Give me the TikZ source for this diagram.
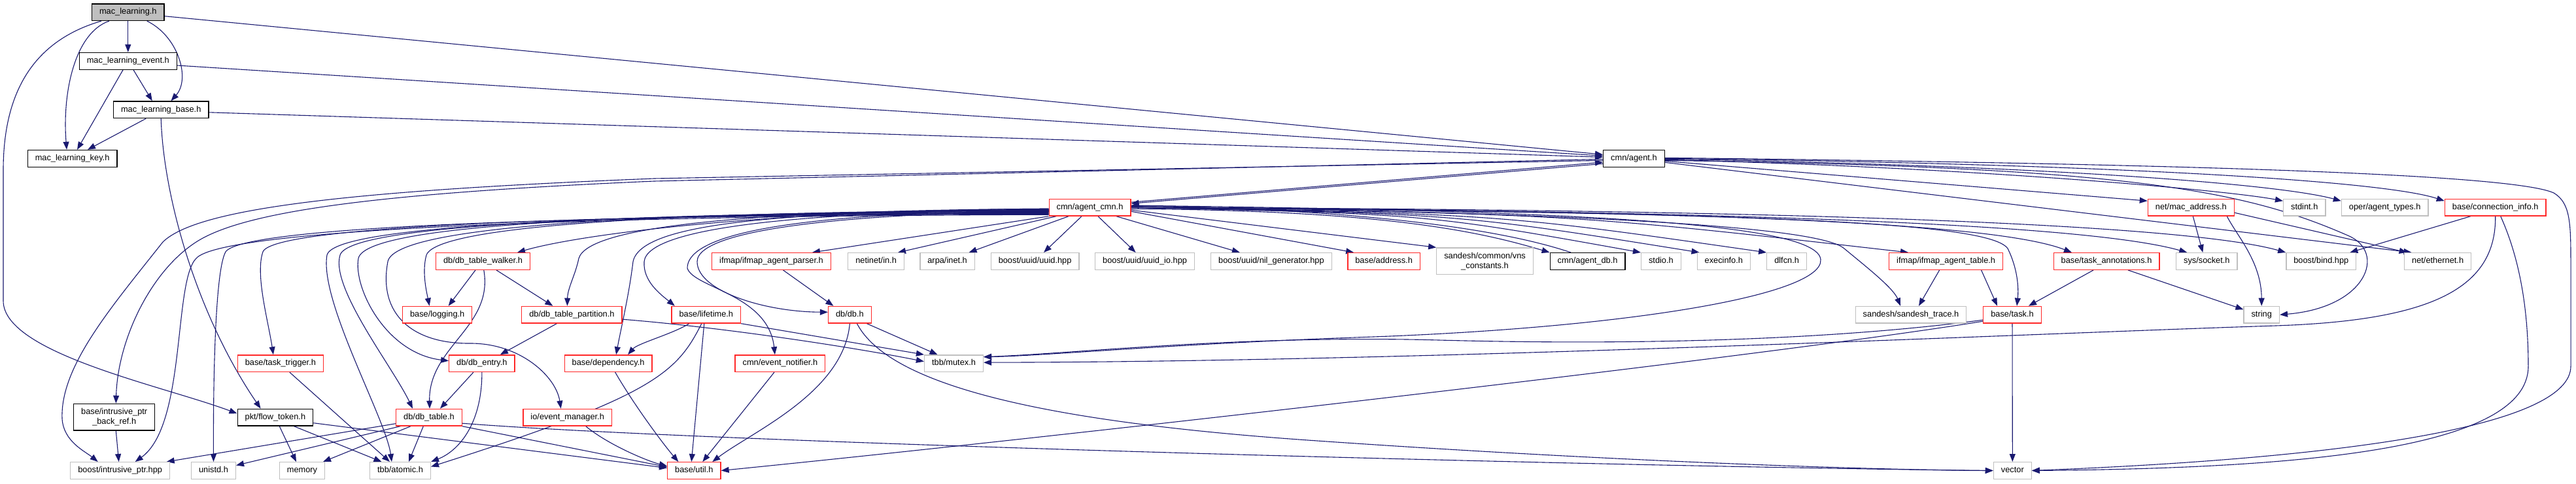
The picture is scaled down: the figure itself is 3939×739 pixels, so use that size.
\documentclass[tikz,border=0pt]{standalone}
\usepackage{fontspec}
\setmainfont{Liberation Sans}
\usetikzlibrary{arrows.meta,backgrounds}
\definecolor{edgeblue}{RGB}{25,25,112}
\definecolor{nodered}{RGB}{255,40,40}
\definecolor{nodegray}{RGB}{191,191,191}
\definecolor{mlgray}{RGB}{191,191,191}
\begin{document}
\begin{tikzpicture}[x=1pt,y=-1pt,
  nbox/.style={draw, line width=1.3pt, fill=white, minimum height=25.7pt, inner xsep=11.5pt, inner ysep=0pt, text height=9.2pt, text depth=2.7pt, font=\fontsize{12.8}{15}\selectfont},
  nboxtwo/.style={draw, line width=1.3pt, fill=white, minimum height=40.7pt, inner xsep=11.5pt, inner ysep=0pt, align=center, font=\fontsize{12.8}{15}\selectfont},
  rd/.style={nbox, draw=nodered},
  gr/.style={nbox, draw=nodegray},
  blk/.style={nbox, draw=black},
  grtwo/.style={nboxtwo, draw=nodegray},
  blktwo/.style={nboxtwo, draw=black},
  conn/.style={draw=edgeblue, line width=1.1pt, -{Triangle[length=12pt,width=9pt]}}]
\useasboundingbox (0,0) rectangle (3939,739);
% ---------- nodes ----------
\node[blk, fill=mlgray] (ML) at (195.8,18.7) {mac\_learning.h};
\node[blk] (MLE) at (195.8,93.3) {mac\_learning\_event.h};
\node[blk] (MLB) at (246.2,167.8) {mac\_learning\_base.h};
\node[blk] (MLK) at (110.6,242.3) {mac\_learning\_key.h};
\node[blk] (AG) at (2498.4,242.3) {cmn/agent.h};
\node[rd] (AC) at (1666.5,317.2) {cmn/agent\_cmn.h};
\node[rd] (MA) at (3350.3,317.2) {net/mac\_address.h};
\node[gr] (SI) at (3523.7,317.2) {stdint.h};
\node[gr] (AT) at (3646.7,317.2) {oper/agent\_types.h};
\node[rd] (CI) at (3815.7,317.2) {base/connection\_info.h};
% row 6
\node[rd] (DTW) at (738.5,399.5) {db/db\_table\_walker.h};
\node[rd] (IAP) at (1179.5,399.5) {ifmap/ifmap\_agent\_parser.h};
\node[gr] (NIN) at (1339.6,399.5) {netinet/in.h};
\node[gr] (AI) at (1448.6,399.5) {arpa/inet.h};
\node[gr] (UU) at (1582.6,399.5) {boost/uuid/uuid.hpp};
\node[gr] (UIO) at (1750.6,399.5) {boost/uuid/uuid\_io.hpp};
\node[gr] (NG) at (1943.9,399.5) {boost/uuid/nil\_generator.hpp};
\node[rd] (BA) at (2116.1,399.5) {base/address.h};
\node[grtwo] (VNS) at (2270.5,399.3) {sandesh/common/vns\\\_constants.h};
\node[blk] (ADB) at (2427.6,399.5) {cmn/agent\_db.h};
\node[gr] (SIO) at (2539.9,399.5) {stdio.h};
\node[gr] (EI) at (2635.8,399.5) {execinfo.h};
\node[gr] (DL) at (2732.1,399.5) {dlfcn.h};
\node[rd] (IAT) at (2975.6,399.5) {ifmap/ifmap\_agent\_table.h};
\node[rd] (TA) at (3221,399.5) {base/task\_annotations.h};
\node[gr] (SS) at (3374.3,399.5) {sys/socket.h};
\node[gr] (BB) at (3549.3,399.5) {boost/bind.hpp};
\node[gr] (NE) at (3727.6,399.5) {net/ethernet.h};
% row 7
\node[rd] (LOG) at (668.7,481.2) {base/logging.h};
\node[rd] (DTP) at (874.4,481.2) {db/db\_table\_partition.h};
\node[rd] (LT) at (1079.8,481.2) {base/lifetime.h};
\node[rd] (DB) at (1299.4,481.2) {db/db.h};
\node[gr] (ST) at (2922,481.2) {sandesh/sandesh\_trace.h};
\node[rd] (TK) at (3077,481.2) {base/task.h};
\node[gr] (STR) at (3458.2,481.2) {string};
% row 8
\node[rd] (TT) at (428.9,555.7) {base/task\_trigger.h};
\node[rd] (DE) at (736.9,555.7) {db/db\_entry.h};
\node[rd] (DEP) at (930.1,555.7) {base/dependency.h};
\node[rd] (EN) at (1192.9,555.7) {cmn/event\_notifier.h};
\node[gr] (MX) at (1458.5,555.7) {tbb/mutex.h};
% row 9
\node[blktwo] (IPB) at (174.7,637.7) {base/intrusive\_ptr\\\_back\_ref.h};
\node[blk] (FT) at (420.9,638.2) {pkt/flow\_token.h};
\node[rd] (DT) at (656,638.2) {db/db\_table.h};
\node[rd] (EM) at (867.7,638.2) {io/event\_manager.h};
% row 10
\node[gr] (BIP) at (183.7,719.5) {boost/intrusive\_ptr.hpp};
\node[gr] (UN) at (326.5,719.5) {unistd.h};
\node[gr] (MEM) at (462,719.5) {memory};
\node[gr] (ATM) at (612,719.5) {tbb/atomic.h};
\node[rd] (UT) at (1061.3,719.5) {base/util.h};
\node[gr] (VEC) at (3077.3,719.5) {vector};
% ---------- edges ----------
\begin{scope}[on background layer]
\fill[white] (0,0) rectangle (3939,739);
% mac_learning.h
\draw[conn] (ML.south) -- (MLE.north);
\draw[conn] ([xshift=-29pt]ML.south) .. controls (115,50) and (95,140) .. ([xshift=-8.6pt]MLK.north);
\draw[conn] ([xshift=29pt]ML.south) .. controls (272,55) and (292,120) .. ([xshift=15.3pt]MLB.north);
\draw[conn] ([yshift=-6pt]ML.east) -- ([yshift=6pt]AG.west);
\draw[conn] ([xshift=-41pt]ML.south) .. controls (60,60) and (5,130) .. (5,260) -- (5,460) .. controls (5,540) and (250,590) .. ([yshift=6pt]FT.west);
% mac_learning_event.h
\draw[conn] ([xshift=-7.7pt]MLE.south) -- ([xshift=7.4pt]MLK.north);
\draw[conn] ([xshift=8.2pt]MLE.south) -- ([xshift=-13.4pt]MLB.north);
\draw[conn] ([yshift=-6.7pt]MLE.east) -- ([yshift=4pt]AG.west);
% mac_learning_base.h
\draw[conn] ([xshift=-23pt]MLB.south) -- ([xshift=23.4pt]MLK.north);
\draw[conn] ([yshift=-4pt]MLB.east) -- ([yshift=2pt]AG.west);
\draw[conn] (MLB.south) .. controls (250,300) and (300,480) .. ([xshift=-22.3pt]FT.north);
% agent.h <-> agent_cmn.h
\draw[conn] ([yshift=8pt]AC.east) -- ([yshift=-5.7pt]AG.west);
\draw[conn] ([yshift=-8pt]AG.west) -- ([yshift=6pt]AC.east);
% agent.h
\draw[conn] ([yshift=-3pt]AG.west) -- (1000,273) .. controls (520,292) and (300,320) .. (249,370) .. controls (170,470) and (92,560) .. (95,640) .. controls (97,675) and (130,690) .. ([xshift=-34pt]BIP.north);
\draw[conn] ([yshift=-1pt]AG.west) -- (1000,277) .. controls (560,296) and (370,325) .. (300,370) .. controls (230,415) and (180,520) .. ([xshift=2.6pt]IPB.north);
\draw[conn] ([yshift=-4pt]AG.east) -- ([yshift=10pt]MA.west);
\draw[conn] ([yshift=-2pt]AG.east) .. controls (3000,255) and (3400,290) .. ([yshift=10pt]SI.west);
\draw[conn] ([yshift=-1pt]AG.east) .. controls (3100,252) and (3480,280) .. ([yshift=10pt]AT.west);
\draw[conn] (AG.east) .. controls (3200,250) and (3640,275) .. ([yshift=10pt]CI.west);
\draw[conn] ([yshift=1pt]AG.east) .. controls (3300,250) and (3840,265) .. (3905,295) .. controls (3930,310) and (3931,340) .. (3931,400) -- (3931,560) .. controls (3931,650) and (3600,700) .. (VEC.east);
\draw[conn] ([yshift=-3pt]AG.east) .. controls (3250,255) and (3430,290) .. (3590,360) .. controls (3650,385) and (3620,470) .. (STR.east);
\draw[conn] ([yshift=-6pt]AG.east) -- ([xshift=-40pt]NE.north);
% net/mac_address.h
\draw[conn] ([xshift=3pt]MA.south) -- ([xshift=-6pt]SS.north);
\draw[conn] ([yshift=-8pt]MA.east) -- ([xshift=-47pt]NE.north);
\draw[conn] ([xshift=55pt]MA.south) .. controls (3420,360) and (3458,400) .. (STR.north);
% base/connection_info.h
\draw[conn] ([xshift=-38pt]CI.south) -- ([xshift=44pt]BB.north);
\draw[conn] (CI.south) .. controls (3817,440) and (3720,490) .. (3480,498) .. controls (3100,510) and (2200,553) .. ([yshift=1.5pt]MX.east);
\draw[conn] ([xshift=8pt]CI.south) .. controls (3855,400) and (3866,480) .. (3866,560) .. controls (3866,690) and (3500,716) .. (VEC.east);
% agent_cmn.h downwards
\draw[conn] (AC.south west) -- ([xshift=62.5pt]IAP.north);
\draw[conn] ([xshift=-51.5pt]AC.south) -- ([xshift=33.4pt]NIN.north);
\draw[conn] ([xshift=-32.5pt]AC.south) -- ([xshift=33pt]AI.north);
\draw[conn] ([xshift=-12.5pt]AC.south) -- ([xshift=13.4pt]UU.north);
\draw[conn] ([xshift=12.5pt]AC.south) -- ([xshift=-14pt]UIO.north);
\draw[conn] ([xshift=40.5pt]AC.south) -- ([xshift=-48pt]NG.north);
% agent_cmn.h to the right
\draw[conn] ([yshift=-6pt]AC.east) -- ([xshift=-46pt]BA.north);
\draw[conn] ([yshift=-4pt]AC.east) -- (VNS.north west);
\draw[conn] ([yshift=-2pt]AC.east) .. controls (2100,322) and (2250,350) .. (ADB.north west);
\draw[conn] ([xshift=-25.6pt]ADB.north) .. controls (2280,345) and (2050,320) .. ([yshift=3pt]AC.east);
\draw[conn] (AC.east) .. controls (2180,327) .. (SIO.north west);
\draw[conn] (AC.east) .. controls (2230,327) .. ([xshift=4pt]EI.north west);
\draw[conn] (AC.east) .. controls (2290,327) .. (DL.north west);
\draw[conn] (AC.east) .. controls (2400,327) .. ([xshift=-57.6pt]IAT.north);
\draw[conn] ([yshift=2pt]AC.east) .. controls (2400,325) and (2780,345) .. (2820,380) .. controls (2850,405) and (2895,440) .. ([xshift=-16pt]ST.north);
\draw[conn] ([yshift=3pt]AC.east) .. controls (2400,322) and (2780,340) .. (2784,397) .. controls (2788,450) and (2500,500) .. (2100,515) .. controls (1800,525) and (1600,544) .. ([yshift=10pt]MX.east);
\draw[conn] (AC.east) .. controls (2600,322) and (3050,340) .. ([xshift=-53pt]TA.north);
\draw[conn] (AC.east) .. controls (2700,322) and (3200,345) .. ([xshift=-30pt]SS.north);
\draw[conn] (AC.east) .. controls (2800,320) and (3350,345) .. (BB.north west);
\draw[conn] (AC.east) .. controls (2600,325) and (3040,335) .. (3070,380) .. controls (3085,410) and (3087,440) .. ([xshift=7pt]TK.north);
% agent_cmn.h to the left
\draw[conn] ([yshift=-2pt]AC.west) .. controls (1150,322) and (880,360) .. ([xshift=52.5pt]DTW.north);
\draw[conn] ([yshift=-2pt]AC.west) .. controls (1150,322) and (900,345) .. (885,395) .. controls (880,420) and (868,440) .. ([xshift=-7pt]DTP.north);
\draw[conn] ([yshift=-3pt]AC.west) .. controls (1200,323) and (980,340) .. (968,400) .. controls (962,450) and (950,500) .. ([xshift=12pt]DEP.north);
\draw[conn] ([yshift=-4pt]AC.west) .. controls (1250,323) and (990,345) .. (985,400) .. controls (983,430) and (1010,450) .. ([xshift=-48pt]LT.north);
\draw[conn] ([yshift=-5pt]AC.west) .. controls (1300,324) and (1051,345) .. (1051,410) .. controls (1060,440) and (1175,450) .. ([xshift=-8pt]EN.north);
\draw[conn] ([yshift=-6pt]AC.west) .. controls (1350,325) and (1066,345) .. (1066,400) .. controls (1066,445) and (1170,477) .. ([yshift=4pt]DB.west);
\draw[conn] ([yshift=-4pt]AC.west) .. controls (1100,323) and (670,340) .. (652,390) .. controls (645,415) and (652,445) .. ([xshift=-12pt]LOG.north);
\draw[conn] ([yshift=-5pt]AC.west) .. controls (1050,324) and (605,340) .. (593,400) .. controls (578,480) and (630,526) .. (720,525) .. controls (795,525) and (850,575) .. ([xshift=-10pt]EM.north);
\draw[conn] ([yshift=-6pt]AC.west) .. controls (1000,325) and (560,340) .. (548,395) .. controls (540,440) and (590,540) .. ([yshift=4pt]DE.west);
\draw[conn] ([yshift=-7pt]AC.west) .. controls (1000,326) and (535,340) .. (520,390) .. controls (505,440) and (600,560) .. ([xshift=-25pt]DT.north);
\draw[conn] ([yshift=-8pt]AC.west) .. controls (1000,327) and (512,340) .. (500,390) .. controls (488,460) and (590,640) .. ([xshift=-13pt]ATM.north);
\draw[conn] ([yshift=-9pt]AC.west) .. controls (900,328) and (418,345) .. (402,385) .. controls (390,420) and (410,490) .. ([xshift=-11pt]TT.north);
\draw[conn] ([yshift=-10pt]AC.west) .. controls (900,329) and (372,345) .. (345,385) .. controls (328,415) and (326,600) .. (UN.north);
\draw[conn] ([yshift=-11pt]AC.west) .. controls (900,330) and (340,350) .. (300,395) .. controls (265,430) and (285,650) .. ([xshift=23pt]BIP.north);
% remaining
\draw[conn] ([xshift=18pt]IAP.south) -- ([xshift=-25pt]DB.north);
\draw[conn] ([xshift=26pt]DB.south) -- ([xshift=-25pt]MX.north);
\draw[conn] (DB.south) .. controls (1290,600) and (1150,660) .. ([xshift=28pt]UT.north);
\draw[conn] ([xshift=11pt]DB.south) .. controls (1360,590) and (1600,645) .. (2000,673) .. controls (2500,708) and (2900,719) .. (VEC.west);
\draw[conn] ([xshift=-26pt]LT.south) .. controls (1030,510) and (975,525) .. ([xshift=30pt]DEP.north);
\draw[conn] ([xshift=-7pt]LT.south) .. controls (1035,570) and (1000,605) .. ([yshift=6pt]ATM.east);
\draw[conn] ([xshift=-3pt]LT.south) -- ([xshift=-4pt]UT.north);
\draw[conn] (LT.south east) -- (MX.north west);
\draw[conn] ([yshift=-7pt]DTP.east) .. controls (1100,500) and (1300,530) .. ([yshift=3pt]MX.west);
\draw[conn] ([xshift=-23pt]DTP.south) -- ([xshift=28pt]DE.north);
\draw[conn] ([xshift=-11.5pt]DTW.south) -- ([xshift=17pt]LOG.north);
\draw[conn] ([xshift=20.5pt]DTW.south) -- ([xshift=-29pt]DTP.north);
\draw[conn] ([xshift=1.3pt]DTW.south) .. controls (755,500) and (655,530) .. ([xshift=1pt]DT.north);
\draw[conn] ([xshift=-13pt]DE.south) -- ([xshift=17pt]DT.north);
\draw[conn] (DE.south) .. controls (737,650) and (700,690) .. (ATM.north east);
\draw[conn] ([xshift=10.6pt]DEP.south) .. controls (970,620) and (1015,680) .. ([xshift=-24pt]UT.north);
\draw[conn] ([xshift=28pt]EM.south) .. controls (930,680) and (990,705) .. ([yshift=7pt]UT.west);
\draw[conn] ([xshift=-9pt]EN.south) -- ([xshift=13pt]UT.north);
\draw[conn] ([yshift=-10pt]TK.west) .. controls (2700,545) and (1600,670) .. (UT.east);
\draw[conn] ([yshift=-8pt]TK.west) .. controls (2800,520) and (2500,528) .. (2200,520) .. controls (1900,512) and (1650,540) .. ([yshift=10pt]MX.east);
\draw[conn] (TK.south) -- (VEC.north);
\draw[conn] ([xshift=-10pt]IAT.south) -- ([xshift=12pt]ST.north);
\draw[conn] ([xshift=54pt]IAT.south) -- ([xshift=-23pt]TK.north);
\draw[conn] ([xshift=-20pt]TA.south) -- ([xshift=25pt]TK.north);
\draw[conn] ([xshift=33pt]TA.south) -- ([yshift=8pt]STR.west);
\draw[conn] ([xshift=6.4pt]FT.south) -- ([xshift=-9pt]MEM.north);
\draw[conn] ([xshift=28.7pt]FT.south) -- ([xshift=-28.5pt]ATM.north);
\draw[conn] ([yshift=-8.5pt]FT.east) -- ([yshift=4pt]UT.west);
\draw[conn] ([yshift=-9.5pt]DT.west) -- ([xshift=71pt]BIP.north);
\draw[conn] ([xshift=-43.8pt]DT.south) -- ([yshift=8pt]UN.east);
\draw[conn] ([xshift=-28pt]DT.south) -- ([xshift=32pt]MEM.north);
\draw[conn] ([xshift=-8.7pt]DT.south) -- ([xshift=13pt]ATM.north);
\draw[conn] (DT.south east) -- ([yshift=5.5pt]UT.west);
\draw[conn] ([yshift=-9pt]DT.east) .. controls (1100,678) and (2500,714) .. (VEC.west);
\draw[conn] ([xshift=14pt]TT.south) -- ([xshift=-16pt]ATM.north);
\draw[conn] ([xshift=2.6pt]IPB.south) -- ([xshift=-2pt]BIP.north);
\end{scope}
\end{tikzpicture}
\end{document}
